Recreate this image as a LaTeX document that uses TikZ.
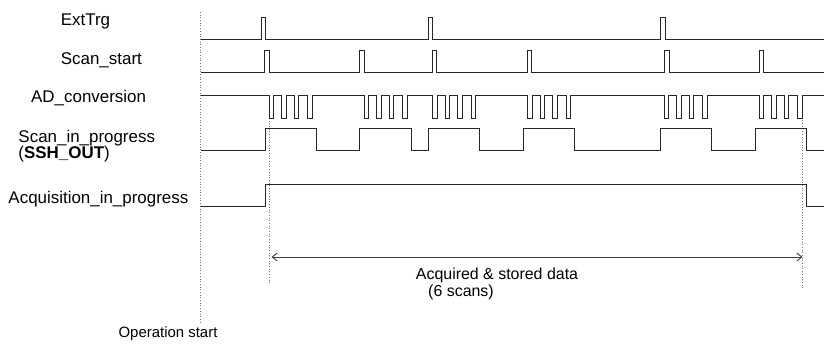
\documentclass[tikz,border=0pt]{standalone}
\usepackage{fontspec}
\setmainfont{Liberation Sans}
\usetikzlibrary{arrows.meta}
\begin{document}
\begin{tikzpicture}[x=1bp,y=-1bp,
  wave/.style={line width=0.9bp,black!85,line join=miter},
  guide/.style={line width=0.7bp,black!55,dotted},
  lbl/.style={anchor=west,inner sep=0pt,font=\fontsize{17}{20}\selectfont},
  note/.style={inner sep=0pt,font=\fontsize{16}{19}\selectfont},
  span/.style={line width=0.9bp,black!75,{Straight Barb[length=5bp,width=8bp]}-{Straight Barb[length=5bp,width=8bp]}}]
\useasboundingbox (0,0) rectangle (825,344);
% labels
\node[lbl] (lExt) at (60.7,21) {ExtTrg};
\node[lbl] (lScan) at (60.7,60) {Scan\_start};
\node[lbl] (lAD) at (31,98) {AD\_conversion};
\node[lbl] (lSip) at (18.3,138) {Scan\_in\_progress};
\node[lbl] (lSsh) at (18.3,154) {(\textbf{SSH\_OUT})};
\node[lbl] (lAcq) at (8.3,199) {Acquisition\_in\_progress};
% guide lines
\draw[guide] (200.7,12) -- (200.7,323);
\draw[guide] (269.3,118) -- (269.3,283);
\draw[guide] (802.5,115) -- (802.5,290);
% ExtTrg
\draw[wave] (200.7,39)
  \foreach \a/\b in {261/265,428.3/432.3,660.7/665}{ -- (\a,39) -- (\a,17) -- (\b,17) -- (\b,39)} -- (824,39);
% Scan_start
\draw[wave] (200.7,72)
  \foreach \a/\b in {264.3/269,359/364,432.7/436.7,527.7/531.7,664.3/669,759.3/763.3}{ -- (\a,72) -- (\a,50) -- (\b,50) -- (\b,72)} -- (824,72);
% AD_conversion
\draw[wave] (200.7,95)
  \foreach \s in {269.3,364,432.7,527.7,664.3,759.3}{
    \foreach \o in {0,12.5,25,38.5}{ -- ({\s+\o},95) -- ({\s+\o},118) -- ({\s+\o+4.5},118) -- ({\s+\o+4.5},95)}} -- (824,95);
% Scan_in_progress
\draw[wave] (200.7,150.7) -- (265,150.7) -- (265,128) -- (316,128) -- (316,150.7)
  -- (359.3,150.7) -- (359.3,128) -- (411.7,128) -- (411.7,150.7)
  -- (428.3,150.7) -- (428.3,128) -- (479.3,128) -- (479.3,150.7)
  -- (523.3,150.7) -- (523.3,128) -- (574,128) -- (574,150.7)
  -- (660,150.7) -- (660,128) -- (711.7,128) -- (711.7,150.7)
  -- (755,150.7) -- (755,128) -- (806,128) -- (806,150.7) -- (824,150.7);
% Acquisition_in_progress
\draw[wave] (200.7,206.7) -- (265,206.7) -- (265,184) -- (806,184) -- (806,206.7) -- (824,206.7);
% span arrow
\coordinate (aL) at (271.5,257);
\coordinate (aR) at (802.5,257);
\draw[span] (aL) -- (aR);
\node[note] (tAcq) at (497,275) {Acquired \& stored data};
\node[note] (tSix) at (461,292) {(6 scans)};
\node[note,font=\fontsize{15}{18}\selectfont] (tOp) at (168,334) {Operation start};
\end{tikzpicture}
\end{document}
